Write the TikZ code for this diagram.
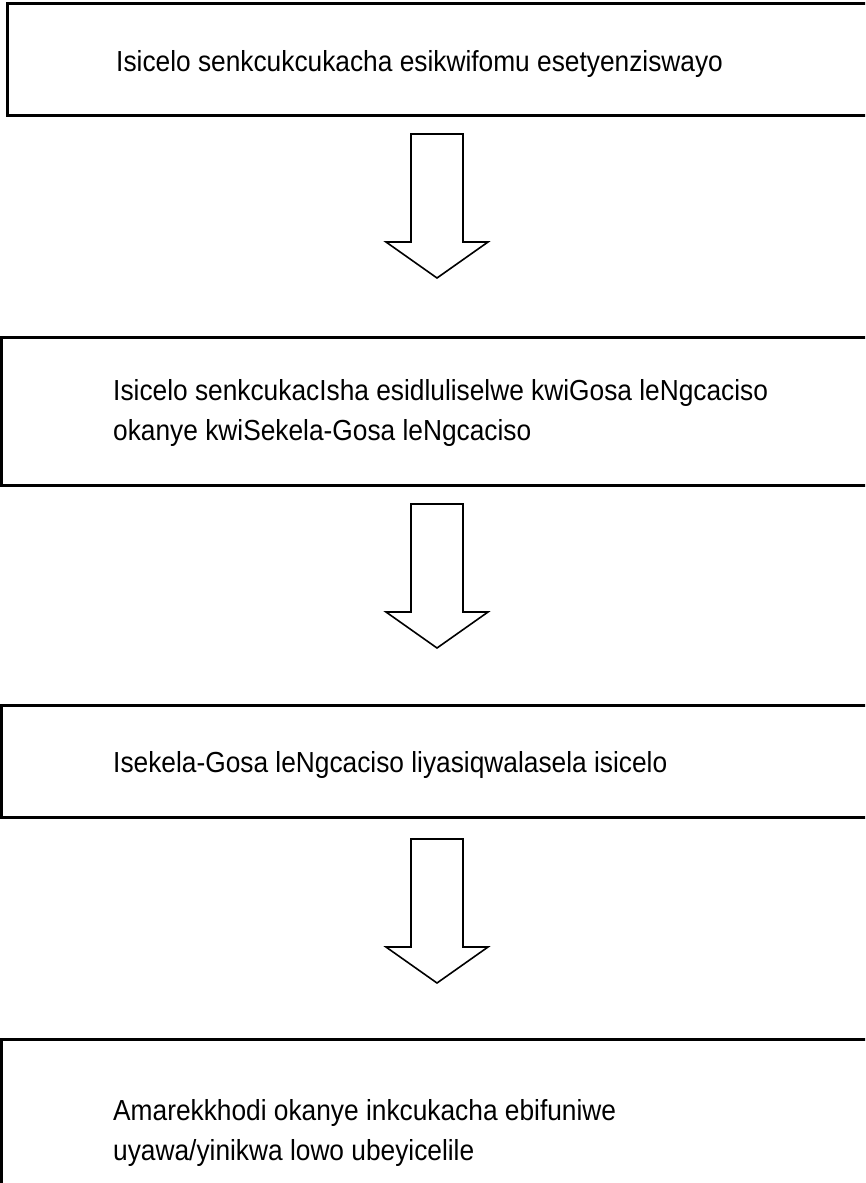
\documentclass[tikz,border=0pt]{standalone}
\usepackage{fontspec}
\setmainfont{Liberation Sans}
\newfontfamily\narrowsans[FakeStretch=0.907]{Liberation Sans}
\begin{document}
\begin{tikzpicture}[x=1pt,y=-1pt,
  box/.style={draw, line width=3pt, inner sep=0pt},
  txt/.style={anchor=base west, inner sep=0pt, font=\narrowsans\fontsize{29}{40}\selectfont},
  blockarrow/.style={draw, line width=1.6pt, line join=miter, fill=white},
  pics/downarrow/.style={code={
    \draw[blockarrow] (-26,0) -- (26,0) -- (26,108) -- (51,108) -- (0,144)
      -- (-51,108) -- (-26,108) -- cycle;}}]
\useasboundingbox (0,0) rectangle (865,1183);
\clip (0,0) rectangle (865,1183);

% process boxes (right edges run off the page)
\node[box, minimum width=863pt, minimum height=112pt] (b1) at (438.5,59) {};
\node[box, minimum width=869pt, minimum height=148pt] (b2) at (435.5,411) {};
\node[box, minimum width=869pt, minimum height=112pt] (b3) at (435.5,761) {};
\node[box, minimum width=869pt, minimum height=160pt] (b4) at (435.5,1119) {};

% texts
\node[txt] (t1) at (116,71) {Isicelo senkcukcukacha esikwifomu esetyenziswayo};
\node[txt] (t2a) at (113,400) {Isicelo senkcukacIsha esidluliselwe kwiGosa leNgcaciso};
\node[txt] (t2b) at (113,440) {okanye kwiSekela-Gosa leNgcaciso};
\node[txt] (t3) at (113,772) {Isekela-Gosa leNgcaciso liyasiqwalasela isicelo};
\node[txt] (t4a) at (113,1120) {Amarekkhodi okanye inkcukacha ebifuniwe};
\node[txt] (t4b) at (113,1160) {uyawa/yinikwa lowo ubeyicelile};

% block arrows between the boxes
\coordinate (a1) at (437,134);
\coordinate (a2) at (437,504);
\coordinate (a3) at (437,839);
\pic at (a1) {downarrow};
\pic at (a2) {downarrow};
\pic at (a3) {downarrow};
\end{tikzpicture}
\end{document}
